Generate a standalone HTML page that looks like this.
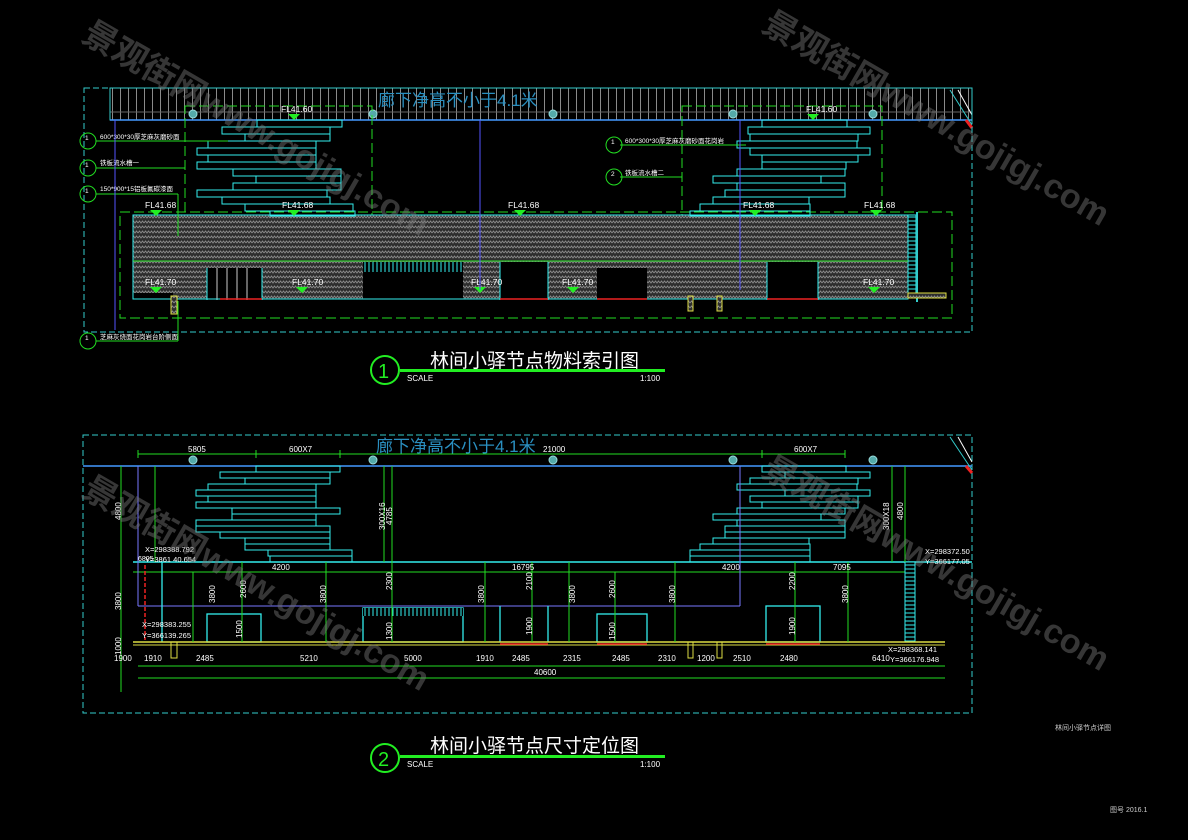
<!DOCTYPE html>
<html><head><meta charset="utf-8"><style>
html,body{margin:0;padding:0;background:#000;width:1188px;height:840px;overflow:hidden}
svg{display:block}
text{font-family:"Liberation Sans","Noto Sans CJK SC",sans-serif}
</style></head><body>
<svg width="1188" height="840" viewBox="0 0 1188 840" xmlns="http://www.w3.org/2000/svg">
<defs>
<pattern id="grid" width="8" height="32" patternUnits="userSpaceOnUse"><rect width="8" height="32" fill="#000"/><line x1="0.5" y1="0" x2="0.5" y2="32" stroke="#8a8a8a" stroke-width="1"/><line x1="0" y1="16" x2="8" y2="16" stroke="#666" stroke-width="1"/></pattern>
<pattern id="hatch" width="6" height="5" patternUnits="userSpaceOnUse"><rect width="6" height="5" fill="#2e2e2e"/><path d="M0 3 L1.5 1 L3 3 L4.5 1 L6 3" stroke="#8a8a8a" stroke-width="0.9" fill="none"/></pattern>
<pattern id="stripes" width="4" height="10" patternUnits="userSpaceOnUse"><rect width="4" height="10" fill="#000"/><line x1="1" y1="0" x2="1" y2="10" stroke="#3ee" stroke-width="1"/></pattern>
<pattern id="hstripes" width="10" height="4" patternUnits="userSpaceOnUse"><rect width="10" height="4" fill="#000"/><line x1="0" y1="1" x2="10" y2="1" stroke="#3ee" stroke-width="1"/></pattern>
</defs>

<!-- ========== TOP DRAWING ========== -->
<rect x="110" y="88" width="862" height="32" fill="url(#grid)"/>
<rect x="110" y="88" width="862" height="32" fill="none" stroke="#3cc" stroke-width="1"/>
<line x1="110" y1="120" x2="972" y2="120" stroke="#49f" stroke-width="1.5"/>
<text x="378" y="106" fill="#2a8fc0" font-size="17">廊下净高不小于4.1米</text>
<g fill="#5aa" stroke="#9dd" stroke-width="1"><circle cx="193" cy="114" r="4"/><circle cx="373" cy="114" r="4"/><circle cx="553" cy="114" r="4"/><circle cx="733" cy="114" r="4"/><circle cx="873" cy="114" r="4"/></g>
<path d="M950 90 L972 125" stroke="#3cc" fill="none"/><path d="M958 90 L972 115" stroke="#fff" fill="none"/><path d="M966 120 L972 128" stroke="#e22" stroke-width="3"/>
<rect x="84" y="88" width="888" height="244" fill="none" stroke="#3cc" stroke-dasharray="6,3"/>
<rect x="185" y="106" width="187" height="118" fill="none" stroke="#2d2" stroke-dasharray="10,4"/>
<rect x="682" y="106" width="200" height="118" fill="none" stroke="#2d2" stroke-dasharray="10,4"/>
<rect x="120" y="212" width="832" height="106" fill="none" stroke="#2d2" stroke-dasharray="10,4"/>
<rect x="133" y="215" width="775" height="84" fill="url(#hatch)"/>
<g fill="#000">
<rect x="207" y="268" width="55" height="32"/>
<rect x="363" y="262" width="100" height="38"/>
<rect x="500" y="262" width="48" height="38"/>
<rect x="597" y="268" width="50" height="32"/>
<rect x="767" y="262" width="51" height="38"/>
<rect x="133" y="293" width="40" height="8"/>
</g>
<rect x="363" y="262" width="100" height="10" fill="url(#stripes)"/>
<g stroke="#ccc" stroke-width="1"><line x1="217" y1="268" x2="217" y2="300"/><line x1="227" y1="268" x2="227" y2="300"/><line x1="237" y1="268" x2="237" y2="300"/><line x1="247" y1="268" x2="247" y2="300"/></g>
<g stroke="#3ee" fill="none"><rect x="133" y="215" width="775" height="84"/><line x1="207" y1="268" x2="207" y2="300"/><line x1="262" y1="268" x2="262" y2="300"/><line x1="500" y1="262" x2="500" y2="300"/><line x1="548" y1="262" x2="548" y2="300"/><line x1="767" y1="262" x2="767" y2="300"/><line x1="818" y1="262" x2="818" y2="300"/></g>
<g stroke="#e22" stroke-width="1.5"><line x1="220" y1="299" x2="262" y2="299"/><line x1="500" y1="299" x2="548" y2="299"/><line x1="597" y1="299" x2="647" y2="299"/><line x1="767" y1="299" x2="818" y2="299"/></g>
<rect x="908" y="215" width="8" height="80" fill="url(#hstripes)" stroke="#3ee"/>
<rect x="916" y="212" width="2" height="90" fill="#3cc"/>
<rect x="908" y="293" width="38" height="5" fill="url(#hatch)" stroke="#dd4"/>
<rect x="171" y="296" width="6" height="18" fill="url(#hatch)" stroke="#dd4"/>
<rect x="688" y="296" width="5" height="15" fill="url(#hatch)" stroke="#dd4"/>
<rect x="717" y="296" width="5" height="15" fill="url(#hatch)" stroke="#dd4"/>
<line x1="133" y1="261" x2="908" y2="261" stroke="#2d2"/>
<g fill="none" stroke="#3ee" stroke-width="1">
<rect x="257" y="120" width="85" height="7"/><rect x="222" y="127" width="108" height="7"/><rect x="245" y="134" width="85" height="7"/><rect x="208" y="141" width="108" height="7"/><rect x="197" y="148" width="119" height="7"/><rect x="208" y="155" width="108" height="7"/><rect x="197" y="162" width="119" height="7"/><rect x="233" y="169" width="108" height="7"/><rect x="256" y="176" width="85" height="7"/><rect x="233" y="183" width="108" height="7"/><rect x="197" y="190" width="130" height="7"/><rect x="222" y="197" width="108" height="7"/><rect x="245" y="204" width="108" height="7"/><rect x="270" y="211" width="85" height="5"/>
</g>
<g fill="none" stroke="#3ee" stroke-width="1">
<rect x="762" y="120" width="85" height="7"/><rect x="748" y="127" width="122" height="7"/><rect x="750" y="134" width="108" height="7"/><rect x="737" y="141" width="120" height="7"/><rect x="750" y="148" width="120" height="7"/><rect x="762" y="155" width="96" height="7"/><rect x="762" y="162" width="84" height="7"/><rect x="737" y="169" width="108" height="7"/><rect x="713" y="176" width="108" height="7"/><rect x="737" y="183" width="108" height="7"/><rect x="725" y="190" width="120" height="7"/><rect x="713" y="197" width="96" height="7"/><rect x="700" y="204" width="110" height="7"/><rect x="690" y="211" width="120" height="5"/>
</g>
<g fill="#fff" font-size="8.5">
<text x="281" y="112">FL41.60</text><text x="806" y="112">FL41.60</text>
<text x="145" y="208">FL41.68</text><text x="282" y="208">FL41.68</text><text x="508" y="208">FL41.68</text><text x="743" y="208">FL41.68</text><text x="864" y="208">FL41.68</text>
<text x="145" y="285">FL41.70</text><text x="292" y="285">FL41.70</text><text x="471" y="285">FL41.70</text><text x="562" y="285">FL41.70</text><text x="863" y="285">FL41.70</text>
</g>
<g fill="#2e2"><path d="M288 114 h12 l-6 6z"/><path d="M807 114 h12 l-6 6z"/><path d="M150 210 h12 l-6 6z"/><path d="M288 210 h12 l-6 6z"/><path d="M514 210 h12 l-6 6z"/><path d="M749 210 h12 l-6 6z"/><path d="M870 210 h12 l-6 6z"/><path d="M150 287 h12 l-6 6z"/><path d="M296 287 h12 l-6 6z"/><path d="M474 287 h12 l-6 6z"/><path d="M567 287 h12 l-6 6z"/><path d="M868 287 h12 l-6 6z"/></g>
<g stroke="#2d2" fill="none">
<line x1="96" y1="141" x2="228" y2="141"/><line x1="96" y1="168" x2="185" y2="168"/><line x1="96" y1="194" x2="178" y2="194"/><line x1="178" y1="194" x2="178" y2="236"/>
<line x1="96" y1="341" x2="178" y2="341"/><line x1="178" y1="301" x2="178" y2="341"/>
<line x1="620" y1="145" x2="746" y2="145"/><line x1="620" y1="177" x2="682" y2="177"/>
<circle cx="88" cy="141" r="8"/><circle cx="88" cy="168" r="8"/><circle cx="88" cy="194" r="8"/><circle cx="88" cy="341" r="8"/><circle cx="614" cy="145" r="8"/><circle cx="614" cy="177" r="8"/>
</g>
<g fill="#fff" font-size="6.5"><text x="85" y="140">1</text><text x="85" y="167">1</text><text x="85" y="193">1</text><text x="85" y="340">1</text><text x="611" y="144">1</text><text x="611" y="176">2</text>
<text x="100" y="139">600*300*30厚芝麻灰磨砂面</text><text x="100" y="165">铁板流水槽一</text><text x="100" y="191">150*900*15铝板氟碳漆面</text><text x="100" y="339">芝麻灰烧面花岗岩台阶侧面</text><text x="625" y="143">600*300*30厚芝麻灰磨砂面花岗岩</text><text x="625" y="175">铁板流水槽二</text></g>
<line x1="115" y1="120" x2="115" y2="330" stroke="#55f"/>
<line x1="480" y1="120" x2="480" y2="290" stroke="#55f"/>
<line x1="740" y1="120" x2="740" y2="290" stroke="#55f"/>
<circle cx="385" cy="370" r="14" fill="none" stroke="#2e2" stroke-width="2"/>
<text x="378" y="378" fill="#2e2" font-size="20">1</text>
<text x="430" y="367" fill="#fff" font-size="19">林间小驿节点物料索引图</text>
<rect x="400" y="369" width="265" height="3" fill="#2e2"/>
<text x="407" y="381" fill="#fff" font-size="8">SCALE</text><text x="640" y="381" fill="#fff" font-size="8">1:100</text>

<!-- ========== BOTTOM DRAWING ========== -->
<rect x="83" y="435" width="889" height="278" fill="none" stroke="#3cc" stroke-dasharray="6,3"/>
<line x1="83" y1="466" x2="972" y2="466" stroke="#49f" stroke-width="1.5"/>
<path d="M950 437 L972 470" stroke="#3cc" fill="none"/><path d="M958 437 L972 462" stroke="#fff" fill="none"/><path d="M966 466 L972 473" stroke="#e22" stroke-width="3"/>
<text x="376" y="452" fill="#2a8fc0" font-size="17">廊下净高不小于4.1米</text>
<g fill="#5aa" stroke="#9dd"><circle cx="193" cy="460" r="4"/><circle cx="373" cy="460" r="4"/><circle cx="553" cy="460" r="4"/><circle cx="733" cy="460" r="4"/><circle cx="873" cy="460" r="4"/></g>
<line x1="138" y1="454" x2="845" y2="454" stroke="#2d2"/>
<g stroke="#2d2"><line x1="138" y1="450" x2="138" y2="458"/><line x1="256" y1="450" x2="256" y2="458"/><line x1="340" y1="450" x2="340" y2="458"/><line x1="762" y1="450" x2="762" y2="458"/><line x1="845" y1="450" x2="845" y2="458"/></g>
<g fill="#fff" font-size="8"><text x="188" y="452">5805</text><text x="289" y="452">600X7</text><text x="543" y="452">21000</text><text x="794" y="452">600X7</text></g>
<g fill="none" stroke="#3ee">
<rect x="256" y="466" width="84" height="6"/><rect x="220" y="472" width="110" height="6"/><rect x="245" y="478" width="85" height="6"/><rect x="208" y="484" width="108" height="6"/><rect x="196" y="490" width="120" height="6"/><rect x="208" y="496" width="108" height="6"/><rect x="196" y="502" width="120" height="6"/><rect x="232" y="508" width="108" height="6"/><rect x="232" y="514" width="84" height="6"/><rect x="196" y="520" width="120" height="6"/><rect x="196" y="526" width="134" height="6"/><rect x="220" y="532" width="110" height="6"/><rect x="245" y="538" width="85" height="6"/><rect x="245" y="544" width="85" height="6"/><rect x="268" y="550" width="84" height="6"/><rect x="270" y="556" width="82" height="6"/>
<rect x="762" y="466" width="84" height="6"/><rect x="785" y="472" width="85" height="6"/><rect x="750" y="478" width="108" height="6"/><rect x="737" y="484" width="120" height="6"/><rect x="785" y="490" width="85" height="6"/><rect x="750" y="496" width="108" height="6"/><rect x="762" y="502" width="96" height="6"/><rect x="737" y="508" width="108" height="6"/><rect x="713" y="514" width="108" height="6"/><rect x="737" y="520" width="108" height="6"/><rect x="725" y="526" width="120" height="6"/><rect x="725" y="532" width="120" height="6"/><rect x="713" y="538" width="96" height="6"/><rect x="700" y="544" width="110" height="6"/><rect x="690" y="550" width="120" height="6"/><rect x="690" y="556" width="120" height="6"/>
</g>
<line x1="133" y1="562" x2="972" y2="562" stroke="#3ee" stroke-width="1.5"/>
<line x1="133" y1="572" x2="908" y2="572" stroke="#2d2"/>
<line x1="138" y1="606" x2="740" y2="606" stroke="#77f"/>
<line x1="740" y1="466" x2="740" y2="606" stroke="#77f"/>
<line x1="138" y1="466" x2="138" y2="606" stroke="#77f"/>
<g fill="none" stroke="#3ee" stroke-width="1.3">
<rect x="207" y="614" width="54" height="28"/>
<rect x="363" y="608" width="100" height="34"/>
<line x1="500" y1="606" x2="500" y2="642"/><line x1="548" y1="606" x2="548" y2="642"/>
<rect x="597" y="614" width="50" height="28"/>
<rect x="766" y="606" width="54" height="36"/>
<line x1="162" y1="562" x2="162" y2="642"/>
</g>
<rect x="363" y="608" width="100" height="8" fill="url(#stripes)"/>
<rect x="905" y="562" width="10" height="80" fill="url(#hstripes)" stroke="#3ee"/>
<line x1="133" y1="642" x2="945" y2="642" stroke="#dd4" stroke-width="1.5"/>
<line x1="133" y1="645" x2="945" y2="645" stroke="#dd4" stroke-width="1"/>
<g stroke="#e22" stroke-width="1.5"><line x1="500" y1="644" x2="548" y2="644"/><line x1="597" y1="644" x2="647" y2="644"/><line x1="766" y1="644" x2="820" y2="644"/><line x1="145" y1="565" x2="145" y2="640" stroke-dasharray="4,2"/></g>
<g fill="none" stroke="#dd4"><rect x="171" y="642" width="6" height="16"/><rect x="688" y="642" width="5" height="16"/><rect x="717" y="642" width="5" height="16"/></g>
<g stroke="#2d2" fill="none">
<line x1="121" y1="466" x2="121" y2="692"/><line x1="155" y1="466" x2="155" y2="562"/><line x1="193" y1="572" x2="193" y2="642"/><line x1="242" y1="562" x2="242" y2="642"/><line x1="326" y1="562" x2="326" y2="642"/><line x1="384" y1="466" x2="384" y2="562"/><line x1="392" y1="466" x2="392" y2="642"/><line x1="485" y1="562" x2="485" y2="642"/><line x1="532" y1="562" x2="532" y2="642"/><line x1="569" y1="562" x2="569" y2="642"/><line x1="615" y1="572" x2="615" y2="642"/><line x1="675" y1="562" x2="675" y2="642"/><line x1="795" y1="562" x2="795" y2="642"/><line x1="848" y1="562" x2="848" y2="642"/><line x1="892" y1="466" x2="892" y2="562"/><line x1="905" y1="466" x2="905" y2="562"/>
<line x1="138" y1="666" x2="945" y2="666"/><line x1="138" y1="678" x2="945" y2="678"/>
</g>
<g fill="#fff" font-size="8">
<text x="138" y="561" font-size="7">6805</text><text x="272" y="570">4200</text><text x="512" y="570">16795</text><text x="722" y="570">4200</text><text x="833" y="570">7095</text>
<text x="114" y="661">1900</text><text x="144" y="661">1910</text><text x="196" y="661">2485</text><text x="300" y="661">5210</text><text x="404" y="661">5000</text><text x="476" y="661">1910</text><text x="512" y="661">2485</text><text x="563" y="661">2315</text><text x="612" y="661">2485</text><text x="658" y="661">2310</text><text x="697" y="661">1200</text><text x="733" y="661">2510</text><text x="780" y="661">2480</text><text x="872" y="661">6410</text>
<text x="534" y="675">40600</text>
<text x="145" y="552" font-size="7.5">X=298388.792</text><text x="145" y="562" font-size="7.5">Y=3861 40.654</text>
<text x="142" y="627" font-size="7.5">X=298383.255</text><text x="142" y="638" font-size="7.5">Y=366139.265</text>
<text x="925" y="554" font-size="7.5">X=298372.50</text><text x="925" y="564" font-size="7.5">Y=366177.05</text>
<text x="888" y="652" font-size="7.5">X=298368.141</text><text x="890" y="662" font-size="7.5">Y=366176.948</text>
</g>
<g fill="#fff" font-size="8">
<text transform="translate(121,520) rotate(-90)">4800</text><text transform="translate(121,610) rotate(-90)">3800</text><text transform="translate(121,655) rotate(-90)">1000</text>
<text transform="translate(215,603) rotate(-90)">3800</text><text transform="translate(246,598) rotate(-90)">2600</text><text transform="translate(326,603) rotate(-90)">3800</text><text transform="translate(385,530) rotate(-90)">300X16</text><text transform="translate(392,525) rotate(-90)">4785</text><text transform="translate(392,590) rotate(-90)">2300</text><text transform="translate(392,640) rotate(-90)">1300</text>
<text transform="translate(484,603) rotate(-90)">3800</text><text transform="translate(532,590) rotate(-90)">2100</text><text transform="translate(532,635) rotate(-90)">1900</text><text transform="translate(575,603) rotate(-90)">3800</text><text transform="translate(615,598) rotate(-90)">2600</text><text transform="translate(615,640) rotate(-90)">1500</text><text transform="translate(675,603) rotate(-90)">3800</text><text transform="translate(795,590) rotate(-90)">2200</text><text transform="translate(795,635) rotate(-90)">1900</text><text transform="translate(848,603) rotate(-90)">3800</text><text transform="translate(889,530) rotate(-90)">300X18</text><text transform="translate(903,520) rotate(-90)">4800</text>
<text transform="translate(242,638) rotate(-90)">1500</text>
</g>
<circle cx="385" cy="758" r="14" fill="none" stroke="#2e2" stroke-width="2"/>
<text x="378" y="766" fill="#2e2" font-size="20">2</text>
<text x="430" y="752" fill="#fff" font-size="19">林间小驿节点尺寸定位图</text>
<rect x="400" y="755" width="265" height="3" fill="#2e2"/>
<text x="407" y="767" fill="#fff" font-size="8">SCALE</text><text x="640" y="767" fill="#fff" font-size="8">1:100</text>
<text x="1055" y="730" fill="#ccc" font-size="7">林间小驿节点详图</text>
<text x="1110" y="812" fill="#ccc" font-size="7">图号 2016.1</text>

<g fill="#777" fill-opacity="0.45" font-size="34" font-weight="bold">
<text transform="translate(80,40) rotate(30)">景观街网www.gojigj.com</text>
<text transform="translate(760,30) rotate(30)">景观街网www.gojigj.com</text>
<text transform="translate(80,495) rotate(30)">景观街网www.gojigj.com</text>
<text transform="translate(760,475) rotate(30)">景观街网www.gojigj.com</text>
</g>
</svg>
</body></html>
